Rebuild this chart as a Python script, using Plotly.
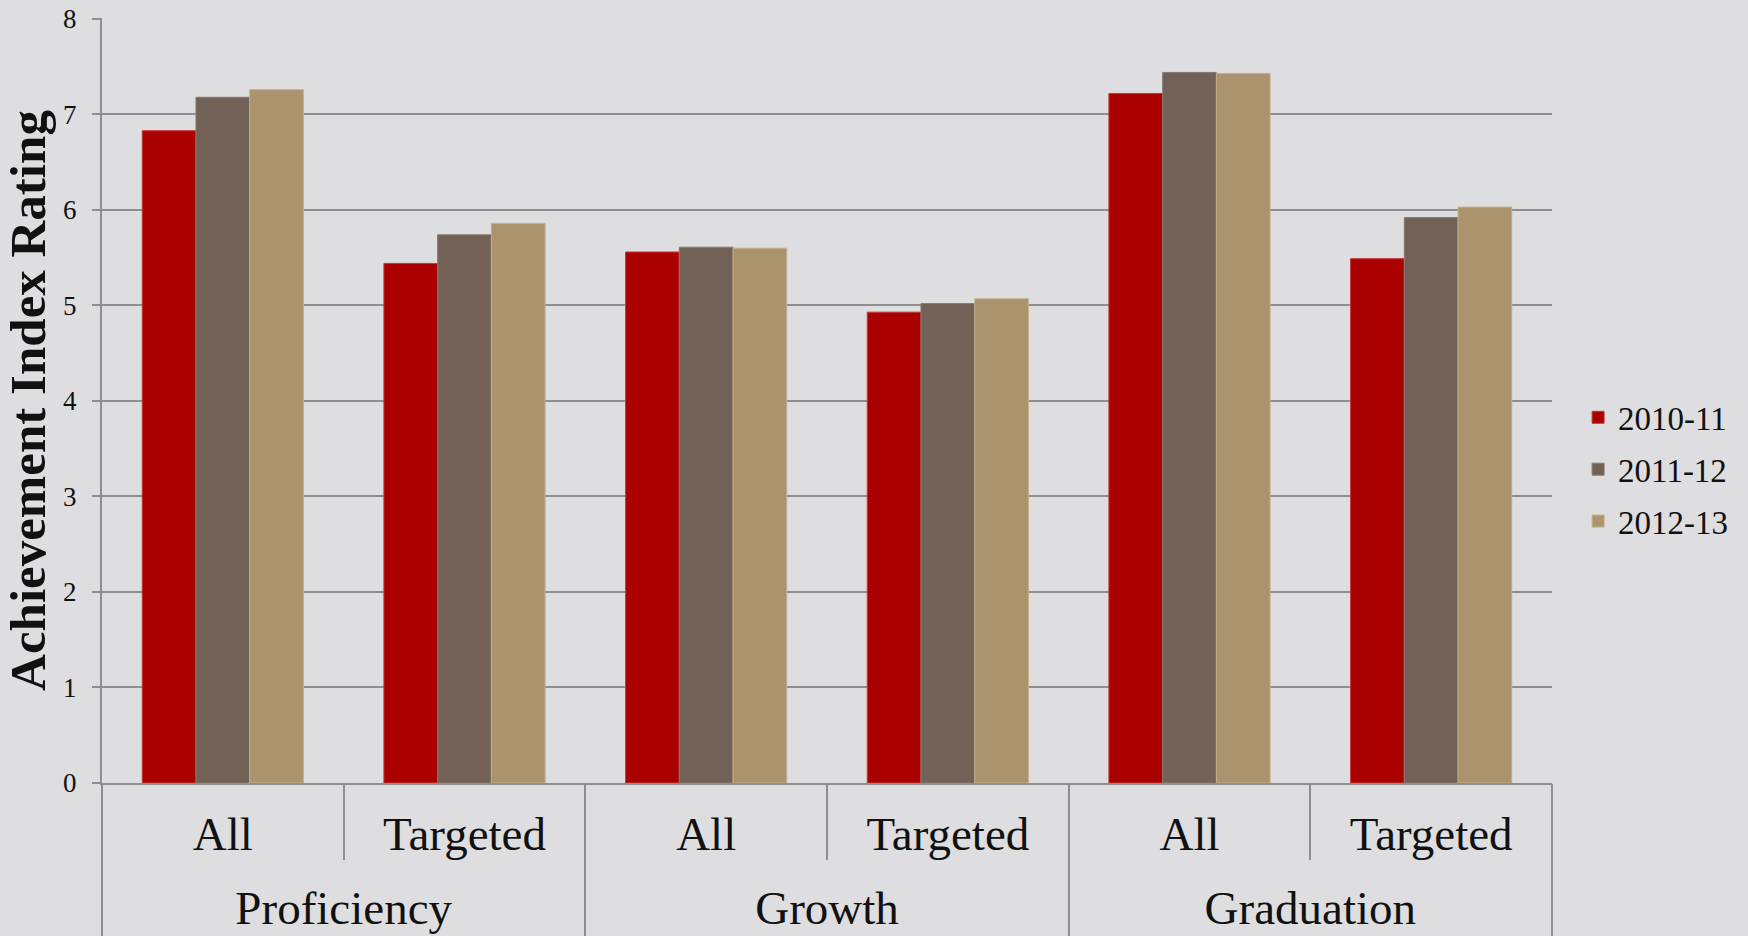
import plotly.graph_objects as go

# Achievement index ratings by measure, student group and school year
measures = ["Proficiency", "Growth", "Graduation"]
groups = ["All", "Targeted", "All", "Targeted", "All", "Targeted"]
years = ["2010-11", "2011-12", "2012-13"]
rating_2010_11 = [6.83, 5.44, 5.56, 4.93, 7.22, 5.49]
rating_2011_12 = [7.18, 5.74, 5.61, 5.02, 7.44, 5.92]
rating_2012_13 = [7.26, 5.86, 5.60, 5.07, 7.43, 6.03]
y_ticks = [0, 1, 2, 3, 4, 5, 6, 7, 8]

series = [rating_2010_11, rating_2011_12, rating_2012_13]
colors = ["#ab0000", "#726156", "#ab936e"]
edges = ["#c23a3a", "#8a7a70", "#c4b08f"]

FONT = "Liberation Serif"
GRID = "#8e8e8e"
INK = "#111111"

# one slot per group, two groups per measure
slots = list(range(len(groups)))
per_measure = len(groups) // len(measures)
measure_centers = [i * per_measure + (per_measure - 1) / 2 for i in range(len(measures))]
inner_bounds = list(measure_centers)                              # between All / Targeted
outer_bounds = [i * per_measure - 0.5 for i in range(len(measures) + 1)]
x_range = [-0.5, len(groups) - 0.5]

fig = go.Figure()
for name, vals, col, edge in zip(years, series, colors, edges):
    fig.add_trace(go.Bar(
        x=slots,
        y=vals,
        name=name,
        legendgroup=name,
        marker=dict(color=col, line=dict(color=edge, width=1)),
    ))

# empty trace so the outer (measure) axis gets drawn
fig.add_trace(go.Scatter(
    x=measure_centers,
    y=[None] * len(measures),
    xaxis="x2",
    mode="markers",
    showlegend=False,
    hoverinfo="skip",
))

fig.update_layout(
    width=1748,
    height=936,
    margin=dict(l=102, r=196, t=18, b=153, autoexpand=False),
    paper_bgcolor="#dedee0",
    plot_bgcolor="#dedee0",
    barmode="group",
    bargap=0.333,
    bargroupgap=0,
    font=dict(family=FONT, color=INK),
    legend=dict(
        x=1.018, y=0.41, xanchor="left", yanchor="middle",
        font=dict(family=FONT, size=33, color=INK),
        bgcolor="rgba(0,0,0,0)",
        traceorder="grouped",
        tracegroupgap=6,
        itemwidth=30,
    ),
    showlegend=True,
)

# inner level: student group labels, short dividers between groups
fig.update_xaxes(
    range=x_range,
    tickvals=slots,
    ticktext=groups,
    tickfont=dict(family=FONT, size=47, color=INK),
    ticks="",
    ticklabelstandoff=9,
    showgrid=False,
    zeroline=False,
    showline=True,
    linecolor=GRID,
    linewidth=2,
    automargin=False,
    minor=dict(tickvals=inner_bounds, ticks="outside", ticklen=75,
               tickwidth=2, tickcolor=GRID, showgrid=False),
)

# outer level: measure labels, full-height dividers between measures
fig.update_layout(
    xaxis2=dict(
        overlaying="x",
        anchor="y",
        side="bottom",
        range=x_range,
        tickvals=measure_centers,
        ticktext=measures,
        tickfont=dict(family=FONT, size=47, color=INK),
        ticks="",
        ticklabelstandoff=93,
        showgrid=False,
        zeroline=False,
        showline=False,
        automargin=False,
        minor=dict(tickvals=outer_bounds, ticks="outside", ticklen=160,
                   tickwidth=2, tickcolor=GRID, showgrid=False),
    )
)

fig.update_yaxes(
    range=[0, 8.01],
    tickvals=y_ticks,
    tickfont=dict(family=FONT, size=27, color=INK),
    ticklabelstandoff=10,
    showgrid=True,
    gridcolor=GRID,
    gridwidth=2,
    showline=True,
    linecolor=GRID,
    linewidth=2,
    ticks="outside",
    ticklen=8,
    tickwidth=2,
    tickcolor=GRID,
    zeroline=False,
    automargin=False,
    title=dict(
        text="<b>Achievement Index Rating</b>",
        font=dict(family=FONT, size=51, color=INK),
        standoff=14,
    ),
)

fig.write_html("out.html")
